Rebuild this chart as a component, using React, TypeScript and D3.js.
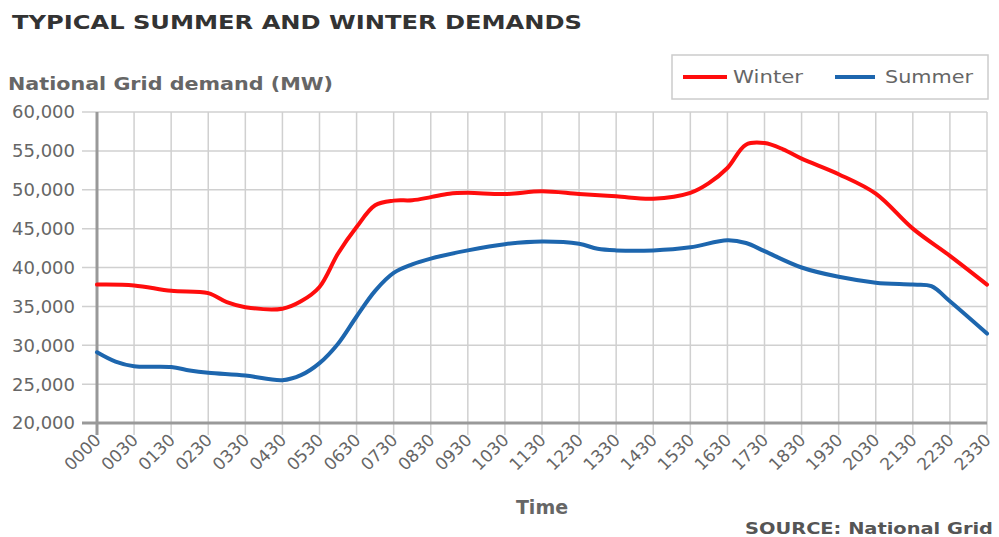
import React from 'react';
import * as d3 from 'd3';

// tick labels along the time axis (evenly spaced categories)
const timeLabels = [
  '0000', '0030', '0130', '0230', '0330', '0430', '0530', '0630', '0730',
  '0830', '0930', '1030', '1130', '1230', '1330', '1430', '1530', '1630',
  '1730', '1830', '1930', '2030', '2130', '2230', '2330',
];

const yTicks = [20000, 25000, 30000, 35000, 40000, 45000, 50000, 55000, 60000];

// [slot index on the time axis, demand in MW]
const winter: [number, number][] = [
  [0, 37800], [1, 37700], [2, 37000], [3, 36700], [3.5, 35550], [4, 34900],
  [5, 34700], [5.5, 35650], [6, 37500], [6.5, 41800], [7, 45200], [7.5, 48000],
  [8, 48600], [8.5, 48650], [9, 49050], [9.5, 49500], [10, 49600], [11, 49450],
  [12, 49800], [13, 49450], [14, 49150], [15, 48850], [16, 49600], [16.5, 50850],
  [17, 52800], [17.5, 55800], [18, 56000], [18.5, 55200], [19, 54000], [20, 52000],
  [21, 49500], [22, 45000], [23, 41500], [24, 37800],
];

const summer: [number, number][] = [
  [0, 29100], [0.5, 27900], [1, 27300], [2, 27200], [2.5, 26750], [3, 26450],
  [4, 26100], [5, 25500], [5.5, 26150], [6, 27700], [6.5, 30200],
  [7, 33700], [7.5, 37000], [8, 39300], [8.5, 40400], [9, 41150], [10, 42200],
  [11, 43000], [12, 43350], [13, 43050], [13.5, 42400], [14, 42200], [15, 42200],
  [16, 42600], [17, 43500], [17.5, 43150], [18, 42100], [19, 40000], [20, 38800],
  [21, 38050], [22, 37800], [22.5, 37600], [23, 35650], [24, 31500],
];

const seriesNames = ['Winter', 'Summer'];
const seriesColors = ['#ff0d0d', '#1d66ae'];

const W = 999;
const H = 537;
const plot = { left: 97, right: 987, top: 112, bottom: 423 };
const font = '"DejaVu Sans", Verdana, sans-serif';

export default function App() {
  const x = d3.scaleLinear().domain([0, timeLabels.length - 1]).range([plot.left, plot.right]);
  const y = d3.scaleLinear().domain([20000, 60000]).range([plot.bottom, plot.top]);

  const line = d3.line<[number, number]>()
    .x(d => x(d[0]))
    .y(d => y(d[1]))
    .curve(d3.curveCatmullRom.alpha(0.5));

  const fmt = d3.format(',');

  return (
    <svg width={W} height={H} style={{ position: 'absolute', left: 0, top: 0, background: '#fff' }}
      fontFamily={font}>
      <text x={12} y={29} fontSize={19} fontWeight="bold" fill="#333"
        textLength={570} lengthAdjust="spacingAndGlyphs">TYPICAL SUMMER AND WINTER DEMANDS</text>

      <text x={8} y={90} fontSize={18} fontWeight="bold" fill="#666"
        textLength={325} lengthAdjust="spacingAndGlyphs">National Grid demand (MW)</text>

      {/* legend */}
      <rect x={672} y={55} width={316} height={44} fill="#fff" stroke="#ccc" strokeWidth={1.5} />
      <line x1={683} x2={727} y1={77} y2={77} stroke={seriesColors[0]} strokeWidth={4} />
      <text x={733} y={83} fontSize={18} fill="#666" textLength={70} lengthAdjust="spacingAndGlyphs">{seriesNames[0]}</text>
      <line x1={835} x2={875} y1={77} y2={77} stroke={seriesColors[1]} strokeWidth={4} />
      <text x={885} y={83} fontSize={18} fill="#666" textLength={88} lengthAdjust="spacingAndGlyphs">{seriesNames[1]}</text>

      {/* horizontal grid */}
      {yTicks.map(t => (
        <g key={t}>
          <line x1={82} x2={plot.right} y1={y(t)} y2={y(t)} stroke="#d0d0d0" strokeWidth={1.5} />
          <text x={75} y={y(t)} dy="0.36em" textAnchor="end" fontSize={18} fill="#666">{fmt(t)}</text>
        </g>
      ))}

      {/* vertical grid + x labels */}
      {timeLabels.map((lab, i) => (
        <g key={lab}>
          <line x1={x(i)} x2={x(i)} y1={plot.top} y2={435} stroke="#d0d0d0" strokeWidth={1.5} />
          <text transform={`translate(${x(i) + 5},${441}) rotate(-45)`} textAnchor="end" fontSize={17} fill="#666">{lab}</text>
        </g>
      ))}

      {/* axes */}
      <line x1={82} x2={plot.right} y1={plot.bottom} y2={plot.bottom} stroke="#999" strokeWidth={3} />
      <line x1={plot.left} x2={plot.left} y1={plot.top} y2={435} stroke="#999" strokeWidth={3} />

      {[winter, summer].map((s, i) => (
        <path key={i} d={line(s) || ''} fill="none" stroke={seriesColors[i]} strokeWidth={4}
          strokeLinejoin="round" strokeLinecap="round" />
      ))}

      <text x={542} y={514} textAnchor="middle" fontSize={19} fontWeight="bold" fill="#666">Time</text>
      <text x={993} y={534} textAnchor="end" fontSize={16} fontWeight="bold" fill="#555"
        textLength={248} lengthAdjust="spacingAndGlyphs">SOURCE: National Grid</text>
    </svg>
  );
}
